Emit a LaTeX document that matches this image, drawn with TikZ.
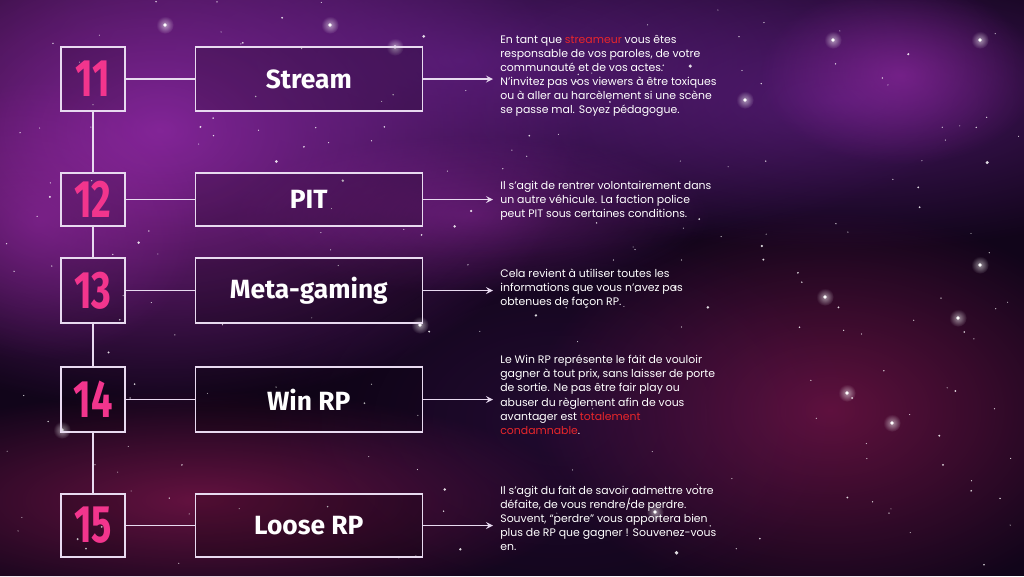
\documentclass[tikz,border=0pt]{standalone}
\usepackage{fontspec}
\usepackage{graphicx}
\setmainfont{Poppins}
\newfontfamily\titlefont{Fira Sans}
\usetikzlibrary{positioning,fadings}

\definecolor{spacebg}{HTML}{11051A}
\definecolor{nebviolet}{HTML}{6A2290}
\definecolor{nebpink}{HTML}{A02CB0}
\definecolor{nebred}{HTML}{8C1852}
\definecolor{numpink}{HTML}{F2358D}
\definecolor{linecol}{HTML}{E8DAF0}
\definecolor{alertred}{HTML}{E8262B}

\tikzfading[name=softglow, inner color=transparent!10, outer color=transparent!100]

\newcommand{\numtext}[1]{\scalebox{0.72}[1]{#1}}
\newcommand{\rouge}[1]{\textcolor{alertred}{#1}}

\tikzset{
  link/.style={draw=linecol, line width=0.75pt},
  numbox/.style={link, fill=black, fill opacity=0.15, text opacity=1, inner sep=0pt,
    minimum width=1.28cm, text=numpink, font=\titlefont\bfseries\fontsize{30}{30}\selectfont},
  titlebox/.style={link, fill=black, fill opacity=0.2, text opacity=1, inner sep=0pt,
    minimum width=4.54cm, text=white, font=\titlefont\bfseries\fontsize{15}{16}\selectfont},
  desc/.style={anchor=north west, align=left, text=white, inner xsep=0.14cm, inner ysep=0pt,
    font=\fontsize{6.2}{8}\selectfont}
}

\begin{document}
\begin{tikzpicture}[x=0.02cm, y=-0.02cm, >=stealth]

\useasboundingbox (0,0) rectangle (1024,576);

% Hintergrund (Nebel, Sterne)
\begin{scope}
\clip (0,0) rectangle (1024,576);
\fill[spacebg] (0,0) rectangle (1024,576);
\fill[nebpink, opacity=0.95, path fading=softglow] (160,130) ellipse (420 and 280);
\fill[nebviolet, opacity=0.75, path fading=softglow] (460,60) ellipse (560 and 200);
\fill[nebviolet, opacity=0.65, path fading=softglow] (840,100) ellipse (420 and 150);
\fill[nebpink, opacity=0.6, path fading=softglow] (900,75) ellipse (140 and 90);
\fill[nebpink, opacity=0.5, path fading=softglow] (40,220) ellipse (160 and 140);
\fill[nebpink, opacity=0.45, path fading=softglow] (470,215) ellipse (240 and 80);
\fill[nebred, opacity=0.75, path fading=softglow] (200,500) ellipse (380 and 110);
\fill[nebred, opacity=0.7, path fading=softglow] (830,410) ellipse (300 and 200);
\fill[nebviolet, opacity=0.2, path fading=softglow] (560,420) ellipse (300 and 200);
\pgfmathsetseed{2024}
\foreach \s in {1,...,210}{
  \pgfmathsetmacro\sx{1024*rnd}
  \pgfmathsetmacro\sy{576*rnd}
  \pgfmathsetmacro\sr{0.3+1.1*rnd*rnd*rnd}
  \fill[white, opacity=0.85] (\sx,\sy) circle (\sr pt);
}
\foreach \sx/\sy in {165/25, 330/25, 395/47, 833/40, 980/40, 745/100, 825/297, 847/393, 655/512, 980/265, 62/430, 420/325, 958/318, 892/423}{
  \fill[white, opacity=0.6, path fading=softglow] (\sx,\sy) circle (5pt);
  \fill[white] (\sx,\sy) circle (1.1pt);
}
\end{scope}

% Nummern
\node[numbox, minimum height=1.28cm] (n11) at (93,79) {\numtext{11}};
\node[numbox, minimum height=1.06cm] (n12) at (93,199.5) {\numtext{12}};
\node[numbox, minimum height=1.30cm] (n13) at (93,290.5) {\numtext{13}};
\node[numbox, minimum height=1.30cm] (n14) at (93,399.5) {\numtext{14}};
\node[numbox, minimum height=1.26cm] (n15) at (93,525.5) {\numtext{15}};

% Begriffe
\node[titlebox, right=1.38cm of n11, minimum height=1.28cm] (t11) {Stream};
\node[titlebox, right=1.38cm of n12, minimum height=1.06cm] (t12) {PIT};
\node[titlebox, right=1.38cm of n13, minimum height=1.30cm] (t13) {Meta-gaming};
\node[titlebox, right=1.38cm of n14, minimum height=1.30cm] (t14) {Win RP};
\node[titlebox, right=1.38cm of n15, minimum height=1.26cm] (t15) {Loose RP};

% Erklaerungen
\node[desc] (d11) at (493,35) {En tant que \rouge{streameur} vous êtes\\
responsable de vos paroles, de votre\\
communauté et de vos actes.\\
N’invitez pas vos viewers à être toxiques\\
ou à aller au harcèlement si une scène\\
se passe mal. Soyez pédagogue.};
\node[desc] (d12) at (493,181) {Il s’agit de rentrer volontairement dans\\
un autre véhicule. La faction police\\
peut PIT sous certaines conditions.};
\node[desc] (d13) at (493,269) {Cela revient à utiliser toutes les\\
informations que vous n’avez pas\\
obtenues de façon RP.};
\node[desc] (d14) at (493,355) {Le Win RP représente le fait de vouloir\\
gagner à tout prix, sans laisser de porte\\
de sortie. Ne pas être fair play ou\\
abuser du règlement afin de vous\\
avantager est \rouge{totalement}\\
\rouge{condamnable}.};
\node[desc] (d15) at (493,486) {Il s’agit du fait de savoir admettre votre\\
défaite, de vous rendre/de perdre.\\
Souvent, “perdre” vous apportera bien\\
plus de RP que gagner ! Souvenez-vous\\
en.};

% Verbindungen
\draw[link] (n11) -- (n12);
\draw[link] (n12) -- (n13);
\draw[link] (n13) -- (n14);
\draw[link] (n14) -- (n15);
\foreach \i in {11,...,15}{
  \draw[link] (n\i) -- (t\i);
  \draw[link, ->] (t\i.east) -- (t\i.east -| d\i.west);
}

\end{tikzpicture}
\end{document}
